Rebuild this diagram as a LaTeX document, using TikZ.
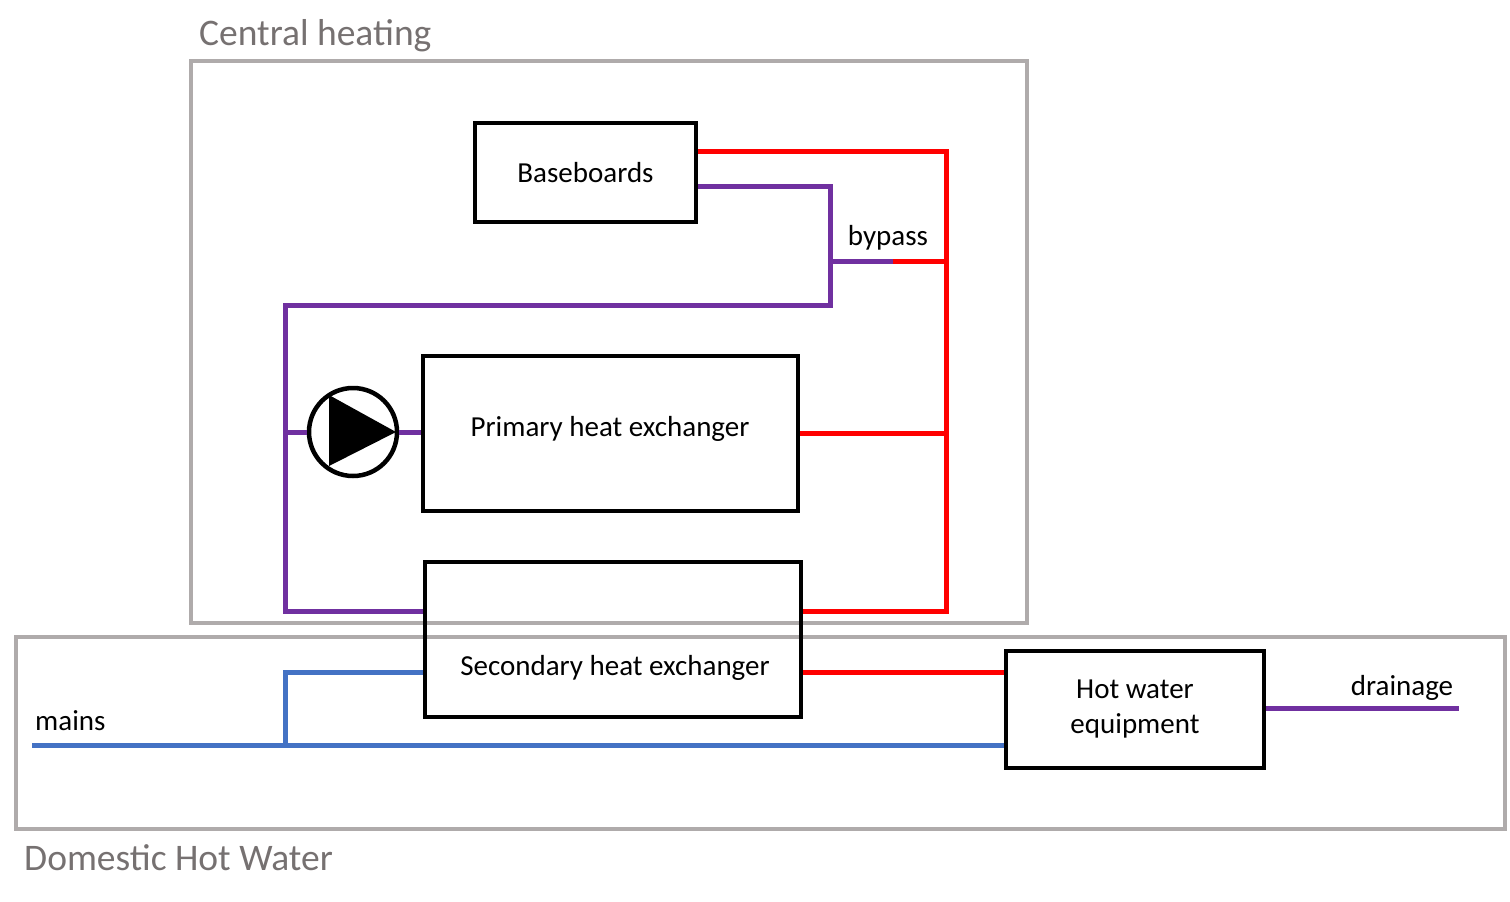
\documentclass[tikz,border=0pt]{standalone}
\usepackage{fontspec}
\setmainfont{Carlito}
\usepackage{xcolor}
\definecolor{retpurple}{HTML}{7030A0}
\definecolor{hotred}{HTML}{FF0000}
\definecolor{coldblue}{HTML}{4472C4}
\definecolor{zonegray}{HTML}{AFABAB}
\definecolor{titlegray}{HTML}{767171}

\begin{document}
\begin{tikzpicture}
  [x=1pt,y=-1pt,
   box/.style={draw,line width=4.5pt,inner sep=0pt,font=\fontsize{29}{35}\selectfont},
   tag/.style={inner sep=0pt,font=\fontsize{29}{35}\selectfont},
   title/.style={inner sep=0pt,text=titlegray,font=\fontsize{37.5}{44}\selectfont},
   zone/.style={draw=zonegray,line width=4pt},
   hot/.style={draw=hotred,line width=5pt},
   ret/.style={draw=retpurple,line width=5pt},
   cold/.style={draw=coldblue,line width=5pt}]
  \useasboundingbox (0,0) rectangle (1510,902);

  % zones
  \draw[zone] (191,61) rectangle (1027,623);
  \draw[zone] (16,637) rectangle (1505,829);
  \node[title,anchor=west] (ch) at (199,36) {Central heating};
  \node[title,anchor=west] (dhw) at (24,858) {Domestic Hot Water};

  % equipment
  \node[box,minimum width=221,minimum height=99] (bb) at (585.5,172.5) {Baseboards};
  \node[box,minimum width=375,minimum height=155] (phx) at (610.5,433.5) {};
  \node[tag] (phxtext) at (610,429) {Primary heat exchanger};
  \node[box,minimum width=376,minimum height=155] (shx) at (613,639.5) {};
  \node[tag] (shxtext) at (615,668) {Secondary heat exchanger};
  \node[box,minimum width=258,minimum height=117,align=center] (hwe) at (1135,709.5) {Hot water\\equipment};
  \node[draw,circle,line width=4.5pt,minimum size=88,inner sep=0pt] (pump) at (353,432) {};
  \fill ([shift={(-24,-37)}]pump.center) -- ([shift={(-24,34)}]pump.center)
        -- ([shift={(43,0)}]pump.center) -- cycle;

  % pipe corners
  \coordinate (rtop) at (946,151);
  \coordinate (rbyp) at (946,261);
  \coordinate (rbot) at (946,611);
  \coordinate (pret) at (830,186);
  \coordinate (pbyp) at (830,261);
  \coordinate (pmid) at (893,261);
  \coordinate (pcor) at (830,305);
  \coordinate (lcor) at (285,305);
  \coordinate (lpump) at (285,432);
  \coordinate (lbot) at (285,611);
  \coordinate (mains) at (32,745);
  \coordinate (tee) at (285,745);
  \coordinate (teeup) at (285,672);
  \coordinate (drain) at (1459,708);

  % heating circuit
  \draw[hot] (bb.east |- rtop) -- (rtop) -- (rbot) -- (shx.east |- rbot);
  \draw[hot] (phx.east) -- (phx.east -| rtop);
  \draw[hot] (pmid) -- (rbyp);
  \draw[ret] (bb.east |- pret) -- (pret) -- (pcor) -- (lcor) -- (lbot) -- (shx.west |- lbot);
  \draw[ret] (pbyp) -- (pmid);
  \draw[ret] (lpump) -- (pump.west);
  \draw[ret] (pump.east) -- (phx.west |- pump.east);

  % domestic water
  \draw[hot] (shx.east |- teeup) -- (hwe.west |- teeup);
  \draw[cold] (mains) -- (mains -| hwe.west);
  \draw[cold] (tee) -- (teeup) -- (shx.west |- teeup);
  \draw[ret] (hwe.east |- drain) -- (drain);

  % labels
  \node[tag] (byp) at (888,238) {bypass};
  \node[tag,anchor=west] (mn) at (35,721) {mains};
  \node[tag] (dr) at (1402,688) {drainage};
\end{tikzpicture}
\end{document}
